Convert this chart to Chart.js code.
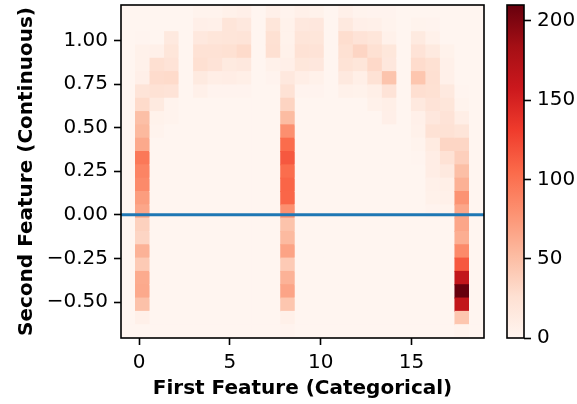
<!DOCTYPE html>
<html><head><meta charset="utf-8">
<script src="https://cdn.jsdelivr.net/npm/chart.js@4.4.1/dist/chart.umd.min.js"></script>
<style>
html,body{margin:0;padding:0;background:#fff;}
#wrap{position:relative;width:577px;height:404px;overflow:hidden;}
#main{position:absolute;left:0;top:0;}
#cbar{position:absolute;left:484px;top:0;}
</style></head><body>
<div id="wrap"><canvas id="main" width="577" height="404"></canvas><canvas id="cbar" width="93" height="404"></canvas></div>
<script>
// ---- data ----
const categories = [0,1,2,3,4,5,6,7,8,9,10,11,12,13,14,15,16,17,18];
// counts per y-bin, listed from the TOP bin (highest y) down to the bottom bin
const cat00 = [0,0,1,5,5,7,21,30,50,54,64,96,88,84,72,66,37,34,58,42,63,64,48,6,0];
const cat01 = [0,0,0,6,26,29,24,14,4,3,0,0,0,0,0,0,0,0,0,0,0,0,0,0,0];
const cat02 = [0,0,15,19,22,30,22,3,3,0,0,0,0,0,0,0,0,0,0,0,0,0,0,0,0];
const cat03 = [3,7,16,24,26,14,6,0,0,0,0,0,0,0,0,0,0,0,0,0,0,0,0,0,0];
const cat04 = [3,6,19,24,22,9,2,0,0,0,0,0,0,0,0,0,0,0,0,0,0,0,0,0,0];
const cat05 = [5,20,20,25,14,10,2,0,0,0,0,0,0,0,0,0,0,0,0,0,0,0,0,0,0];
const cat06 = [7,16,21,30,16,8,2,0,0,0,0,0,0,0,0,0,0,0,0,0,0,0,0,0,0];
const cat07 = [6,19,25,26,5,2,0,0,0,0,0,0,0,0,0,0,0,0,0,0,0,0,0,0,0];
const cat08 = [3,4,4,5,7,16,24,35,52,81,104,115,103,108,107,80,47,53,68,42,58,67,45,6,2];
const cat09 = [6,16,20,24,18,9,2,0,0,0,0,0,0,0,0,0,0,0,0,0,0,0,0,0,0];
const cat10 = [4,17,19,22,17,5,2,0,0,0,0,0,0,0,0,0,0,0,0,0,0,0,0,0,0];
const cat11 = [6,15,28,25,23,15,5,0,0,0,0,0,0,0,0,0,0,0,0,0,0,0,0,0,0];
const cat12 = [3,7,22,34,19,8,4,0,0,0,0,0,0,0,0,0,0,0,0,0,0,0,0,0,0];
const cat13 = [2,6,19,25,31,24,8,5,0,0,0,0,0,0,0,0,0,0,0,0,0,0,0,0,0];
const cat14 = [2,3,5,18,17,46,22,8,7,0,0,0,0,0,0,0,0,0,0,0,0,0,0,0,0];
const cat15 = [0,3,14,22,29,45,27,15,6,5,3,1,0,0,0,0,0,0,0,0,0,0,0,0,0];
const cat16 = [0,2,5,14,25,26,25,22,17,24,13,10,10,6,5,2,0,0,0,0,0,0,0,0,0];
const cat17 = [0,0,0,4,6,6,15,19,22,24,33,24,15,8,6,3,0,0,0,0,0,0,0,0,0];
const cat18 = [0,0,0,0,0,0,1,3,9,20,33,38,50,59,78,66,66,61,84,115,164,210,164,45,3];
const categoryCounts = [cat00,cat01,cat02,cat03,cat04,cat05,cat06,cat07,cat08,cat09,
  cat10,cat11,cat12,cat13,cat14,cat15,cat16,cat17,cat18];

const xRange = [-1, 19];        // histogram x range
const yRange = [-0.706, 1.203]; // histogram y range
const nBinsX = 25;
const nBinsY = 25;
const refLineY = 0;             // horizontal reference line
const xTicks = [0, 5, 10, 15];
const yTicks = [-0.5, -0.25, 0, 0.25, 0.5, 0.75, 1.0];
const cbTicks = [0, 50, 100, 150, 200];
const xTitle = 'First Feature (Categorical)';
const yTitle = 'Second Feature (Continuous)';

// ---- colormap (matplotlib Reds) ----
const reds = ['#fff5f0','#fee0d2','#fcbba1','#fc9272','#fb6a4a','#ef3b2c','#cb181d','#a50f15','#67000d'];
function hex2rgb(h){return [parseInt(h.slice(1,3),16),parseInt(h.slice(3,5),16),parseInt(h.slice(5,7),16)];}
const redsRGB = reds.map(hex2rgb);
function cmap(t){
  t = Math.max(0, Math.min(1, t));
  const p = t * (redsRGB.length - 1);
  const i = Math.min(Math.floor(p), redsRGB.length - 2);
  const f = p - i;
  const a = redsRGB[i], b = redsRGB[i+1];
  return 'rgb(' + a.map((v,k)=>Math.round(v + (b[k]-v)*f)).join(',') + ')';
}

// ---- build the 2D histogram grid ----
const xw = (xRange[1]-xRange[0]) / nBinsX;
const yh = (yRange[1]-yRange[0]) / nBinsY;
const grid = [];
for (let j = 0; j < nBinsX; j++) grid.push(new Array(nBinsY).fill(0));
categories.forEach((c, ci) => {
  const j = Math.floor((c - xRange[0]) / xw + 1e-9);
  categoryCounts[ci].forEach((v, kTop) => { grid[j][kTop] += v; });
});
const vmax = Math.max(...categoryCounts.map(a => Math.max(...a)));

const cells = [], cellColors = [];
for (let j = 0; j < nBinsX; j++) {
  const xc = xRange[0] + (j + 0.5) * xw;
  for (let k = 0; k < nBinsY; k++) {
    const hi = yRange[1] - k * yh, lo = hi - yh;
    cells.push({x: xc, y: [lo, hi]});
    cellColors.push(cmap(grid[j][k] / vmax));
  }
}

Chart.defaults.font.family = 'DejaVu Sans';
Chart.defaults.font.size = 20;
Chart.defaults.color = '#000';
Chart.defaults.animation = false;

const framePlugin = {
  id: 'frame',
  afterDatasetsDraw(chart) {
    const {ctx, chartArea: a} = chart;
    ctx.save();
    ctx.strokeStyle = '#000';
    ctx.lineWidth = 1.6;
    ctx.strokeRect(a.left, a.top, a.right - a.left, a.bottom - a.top);
    ctx.restore();
  }
};

function fmtY(v){ return (v < 0 ? '\u2212' : '') + Math.abs(v).toFixed(2); }

new Chart(document.getElementById('main'), {
  type: 'bar',
  data: {
    datasets: [
      { type: 'line', data: [{x: xRange[0], y: refLineY}, {x: xRange[1], y: refLineY}],
        borderColor: '#1f77b4', borderWidth: 3, pointRadius: 0, order: 0 },
      { type: 'bar', data: cells, backgroundColor: cellColors, borderWidth: 0,
        inflateAmount: 0.5, grouped: false, barPercentage: 1, categoryPercentage: 1, order: 1 }
    ]
  },
  options: {
    responsive: false,
    devicePixelRatio: 1,
    layout: { padding: { left: 0, top: 5, right: 93, bottom: 0 } },
    plugins: { legend: { display: false }, tooltip: { enabled: false } },
    scales: {
      x: {
        type: 'linear', min: xRange[0], max: xRange[1], offset: false,
        grid: { drawOnChartArea: false, drawTicks: true, tickLength: 7, tickWidth: 1.6, tickColor: '#000', offset: false },
        border: { display: false },
        ticks: { padding: 6, color: '#000', font: { size: 20 }, callback: v => String(v) },
        title: { display: true, text: xTitle, color: '#000', font: { size: 20, weight: 'bold' }, padding: { top: 0, bottom: 3 } },
        afterBuildTicks: s => { s.ticks = xTicks.map(v => ({value: v})); },
        afterFit: s => { s.height = 66; s.paddingLeft = 0; s.paddingRight = 0; }
      },
      y: {
        type: 'linear', min: yRange[0], max: yRange[1], beginAtZero: false,
        grid: { drawOnChartArea: false, drawTicks: true, tickLength: 7, tickWidth: 1.6, tickColor: '#000' },
        border: { display: false },
        ticks: { padding: 6, color: '#000', font: { size: 20 }, callback: v => fmtY(v) },
        title: { display: true, text: yTitle, color: '#000', font: { size: 20, weight: 'bold' }, padding: { top: 15, bottom: 0 } },
        afterBuildTicks: s => { s.ticks = yTicks.map(v => ({value: v})); },
        afterFit: s => { s.width = 121; s.paddingTop = 0; s.paddingBottom = 0; }
      }
    }
  },
  plugins: [framePlugin]
});

// ---- colorbar ----
new Chart(document.getElementById('cbar'), {
  type: 'bar',
  data: {
    labels: ['counts'],
    datasets: [{
      data: [[0, vmax]],
      borderWidth: 0, inflateAmount: 0, barPercentage: 1, categoryPercentage: 1,
      backgroundColor: (ctx) => {
        const ch = ctx.chart;
        const ys = ch.scales && ch.scales.y;
        if (!ys || !ch.chartArea) return reds[0];
        const g = ch.ctx.createLinearGradient(0, ys.getPixelForValue(0), 0, ys.getPixelForValue(vmax));
        reds.forEach((c, i) => g.addColorStop(i / (reds.length - 1), c));
        return g;
      }
    }]
  },
  options: {
    responsive: false,
    devicePixelRatio: 1,
    layout: { padding: { left: 23, top: 5, right: 0, bottom: 66 } },
    plugins: { legend: { display: false }, tooltip: { enabled: false } },
    scales: {
      x: { display: false },
      y: {
        position: 'right', min: 0, max: vmax,
        grid: { drawOnChartArea: false, drawTicks: true, tickLength: 7, tickWidth: 1.6, tickColor: '#000' },
        border: { display: false },
        ticks: { padding: 6, color: '#000', font: { size: 20 }, callback: v => String(v) },
        afterBuildTicks: s => { s.ticks = cbTicks.map(v => ({value: v})); },
        afterFit: s => { s.width = 53; s.paddingTop = 0; s.paddingBottom = 0; }
      }
    }
  },
  plugins: [framePlugin]
});
</script>
</body></html>
